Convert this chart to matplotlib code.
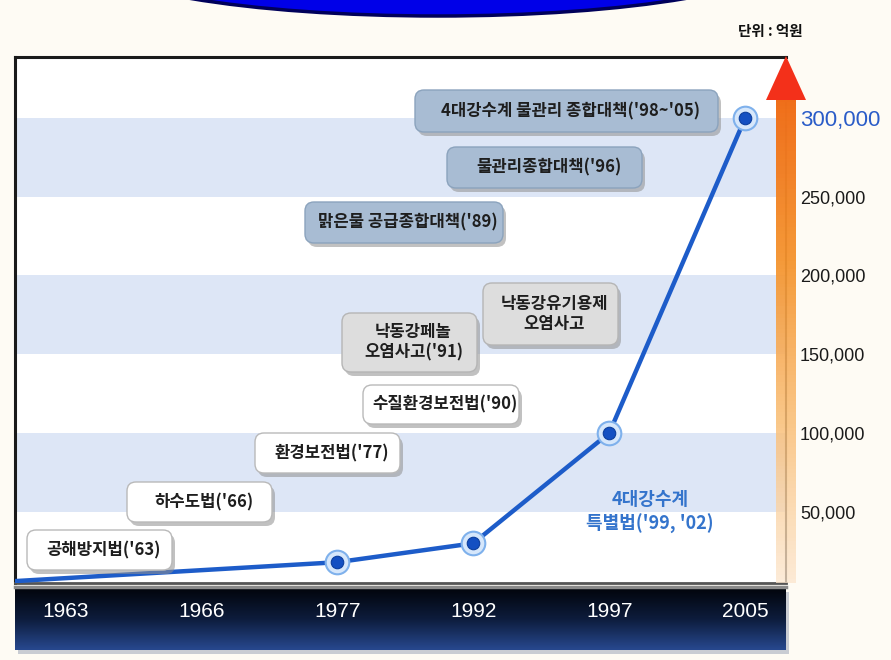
import matplotlib
matplotlib.use("Agg")
import matplotlib.pyplot as plt
import numpy as np
from matplotlib.patches import FancyBboxPatch, Ellipse, Polygon
from matplotlib.colors import LinearSegmentedColormap

W, H = 891, 660

# x axis categories (year ticks in the band)
years = ["1963", "1966", "1977", "1992", "1997", "2005"]

# invested budget (unit: 100 million won)
budget_years = ["1963", "1977", "1992", "1997", "2005"]
budget = [6000, 18000, 30000, 100000, 300000]

y_ticks = [50000, 100000, 150000, 200000, 250000, 300000]
y_tick_labels = ["50,000", "100,000", "150,000", "200,000", "250,000", "300,000"]

# policy milestones shown as callouts
events = [
    "공해방지법('63)",
    "하수도법('66)",
    "환경보전법('77)",
    "수질환경보전법('90)",
    "낙동강페놀\n오염사고('91)",
    "낙동강유기용제\n오염사고",
    "맑은물 공급종합대책('89)",
    "물관리종합대책('96)",
    "4대강수계 물관리 종합대책('98~'05)",
]
special_law = "4대강수계\n특별법('99, '02)"
unit_label = "단위 : 억원"

# callout layout, pixel boxes (x0, y0, x1, y1) and fill style
event_boxes = [
    (27, 530, 172, 570), (127, 482, 272, 522), (255, 433, 400, 473),
    (363, 385, 519, 424), (342, 313, 477, 372), (483, 283, 618, 345),
    (305, 202, 503, 243), (447, 147, 642, 188), (415, 90, 718, 132),
]
event_kinds = ["white", "white", "white", "white", "gray", "gray", "blue", "blue", "blue"]
box_face = {"white": "#ffffff", "gray": "#dddddd", "blue": "#a8bcd3"}
box_edge = {"white": "#b9b9b9", "gray": "#b5b5b5", "blue": "#8ba3bd"}

KR = ["Noto Sans CJK KR", "DejaVu Sans"]
NUM = ["Liberation Sans", "DejaVu Sans"]

fig = plt.figure(figsize=(W / 100, H / 100), dpi=100)
fig.patch.set_facecolor("#fefbf4")

# background layer: top ellipse and the dark year band
bg = fig.add_axes([0, 0, 1, 1], zorder=0)
bg.set_xlim(0, W)
bg.set_ylim(H, 0)
bg.axis("off")
bg.add_patch(Ellipse((438, -44), 700, 120, facecolor="#0000e8", edgecolor="#00005a", lw=2.5))

band_cmap = LinearSegmentedColormap.from_list("band", ["#02050c", "#0d1c3c", "#27488e"])
bg.add_patch(Polygon([(18, 592), (789, 592), (789, 654), (18, 654)], closed=True,
                     facecolor="#c9ccd3", edgecolor="none"))
bg.imshow(np.linspace(0, 1, 64).reshape(-1, 1), cmap=band_cmap, aspect="auto",
          extent=[15, 786, 650, 588], zorder=2)
bg.plot([15, 786], [587, 587], color="#8a8a8a", lw=2.5, zorder=3)

# main chart
ax = fig.add_axes([15 / W, 1 - 583 / H, (786 - 15) / W, (583 - 57) / H], zorder=1)
ax.set_facecolor("#ffffff")
ax.set_xlim(-0.37, 5.30)
ax.set_ylim(4800, 338700)

for lo in (50000, 150000, 250000):
    ax.axhspan(lo, lo + 50000, color="#dde6f6", lw=0, zorder=0)

pos = {y: i for i, y in enumerate(years)}
xs = [pos[y] for y in budget_years]
xs[0] = ax.get_xlim()[0]
ax.plot(xs, budget, color="#1d5cc9", lw=3.2, solid_capstyle="round", zorder=3)
ax.plot(xs[1:], budget[1:], "o", ms=17, mfc="#d6e7fb", mec="#7fb1ec", mew=1.5, zorder=4)
ax.plot(xs[1:], budget[1:], "o", ms=9, mfc="#1450c2", mec="#0c3f9e", mew=0.8, zorder=5)

for side in ("top", "left"):
    ax.spines[side].set_linewidth(2.2)
    ax.spines[side].set_color("#1a1a1a")
ax.spines["right"].set_color("#222222")
ax.spines["right"].set_linewidth(1.5)
ax.spines["bottom"].set_color("#555555")
ax.spines["bottom"].set_linewidth(2)

ax.set_xticks(range(len(years)))
ax.set_xticklabels(years, color="white", fontsize=15, family=NUM)
ax.tick_params(axis="x", length=0, pad=14)

ax.yaxis.tick_right()
ax.set_yticks(y_ticks)
ax.set_yticklabels(y_tick_labels, fontsize=13, family=NUM, color="#1a1a1a")
ax.tick_params(axis="y", length=0, pad=10)
for lab in ax.get_yticklabels():
    lab.set_horizontalalignment("left")
top_lab = ax.get_yticklabels()[-1]
top_lab.set_color("#2a5cc8")
top_lab.set_fontsize(16)

# overlay: callouts, axis arrow, notes
ov = fig.add_axes([0, 0, 1, 1], zorder=2)
ov.set_xlim(0, W)
ov.set_ylim(H, 0)
ov.axis("off")
ov.patch.set_alpha(0)

for text, (x0, y0, x1, y1), kind in zip(events, event_boxes, event_kinds):
    ov.add_patch(FancyBboxPatch((x0 + 3, y0 + 4), x1 - x0, y1 - y0,
                                boxstyle="round,pad=0,rounding_size=9",
                                facecolor="#8f8f8f", edgecolor="none", alpha=0.55))
    ov.add_patch(FancyBboxPatch((x0, y0), x1 - x0, y1 - y0,
                                boxstyle="round,pad=0,rounding_size=9",
                                facecolor=box_face[kind], edgecolor=box_edge[kind], lw=1))
    ov.text((x0 + x1) / 2 + 4, (y0 + y1) / 2, text, ha="center", va="center",
            fontsize=12, fontweight="bold", color="#1e1e1e", family=KR, linespacing=1.15)

ov.text(650, 512, special_law, ha="center", va="center", fontsize=13,
        fontweight="bold", color="#3474cc", family=KR, linespacing=1.35)
ov.text(770, 31, unit_label, ha="center", va="center", fontsize=10.5,
        fontweight="bold", color="#111111", family=KR)

# value axis arrow with orange gradient shaft
shaft = np.array([
    [0.94, 0.43, 0.10, 1.00],
    [0.96, 0.58, 0.18, 0.95],
    [0.98, 0.74, 0.45, 0.85],
    [0.99, 0.90, 0.80, 0.75],
])
grad = LinearSegmentedColormap.from_list("shaft", shaft)
ov.imshow(np.linspace(0, 1, 128).reshape(-1, 1), cmap=grad, aspect="auto",
          extent=[776, 796, 583, 98], zorder=3)
ov.add_patch(Polygon([(766, 100), (806, 100), (786, 56)], closed=True,
                     facecolor="#f3301a", edgecolor="none", zorder=4))

fig.savefig("out.png", dpi=100, facecolor=fig.get_facecolor())
